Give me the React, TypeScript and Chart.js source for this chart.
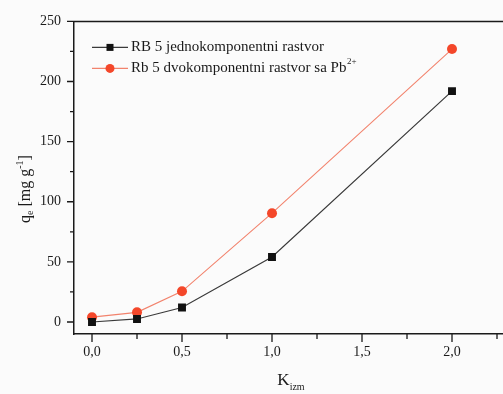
import React, { useEffect, useRef } from "react";
import { Chart, registerables } from "chart.js";

Chart.register(...registerables);

const kValues = [0, 0.25, 0.5, 1.0, 2.0];
const singleLabel = "RB 5 jednokomponentni rastvor";
const singleValues = [0, 2.5, 12, 54, 192];
const binaryLabel = "Rb 5 dvokomponentni rastvor sa Pb²⁺";
const binaryValues = [4, 8, 25.5, 90.5, 227];
const xTickValues = [0, 0.5, 1.0, 1.5, 2.0];
const xMinorValues = [0.25, 0.75, 1.25, 1.75, 2.25];
const yTickValues = [0, 50, 100, 150, 200, 250];
const yMinorValues = [25, 75, 125, 175, 225];

const FONT = '"Liberation Serif", "Times New Roman", serif';
const BLACK_LINE = "#3a3a3a";
const BLACK_PT = "#111111";
const RED_LINE = "#f2836d";
const RED_PT = "#f4472a";

function drawRich(ctx: CanvasRenderingContext2D, parts: { t: string; size: number; dy: number }[], cx: number, cy: number) {
  let total = 0;
  for (const p of parts) {
    ctx.font = `${p.size}px ${FONT}`;
    total += ctx.measureText(p.t).width;
  }
  let x = cx - total / 2;
  ctx.textAlign = "left";
  ctx.textBaseline = "alphabetic";
  for (const p of parts) {
    ctx.font = `${p.size}px ${FONT}`;
    ctx.fillText(p.t, x, cy + p.dy);
    x += ctx.measureText(p.t).width;
  }
}

const decorPlugin = {
  id: "decor",
  afterDraw(chart: any) {
    const ctx: CanvasRenderingContext2D = chart.ctx;
    const { left, right, top, bottom } = chart.chartArea;
    const xs = chart.scales.x;
    const ys = chart.scales.y;
    ctx.save();
    ctx.strokeStyle = "#1a1a1a";
    ctx.lineWidth = 1.5;
    // frame top & right
    ctx.beginPath();
    ctx.moveTo(left, top);
    ctx.lineTo(right, top);
    ctx.lineTo(right, bottom);
    ctx.stroke();
    // ticks
    ctx.lineWidth = 1.3;
    ctx.beginPath();
    for (const v of xTickValues) {
      const px = xs.getPixelForValue(v);
      ctx.moveTo(px, bottom);
      ctx.lineTo(px, bottom + 8);
    }
    for (const v of xMinorValues) {
      const px = xs.getPixelForValue(v);
      ctx.moveTo(px, bottom);
      ctx.lineTo(px, bottom + 5);
    }
    for (const v of yTickValues) {
      const py = ys.getPixelForValue(v);
      ctx.moveTo(left, py);
      ctx.lineTo(left - 7, py);
    }
    for (const v of yMinorValues) {
      const py = ys.getPixelForValue(v);
      ctx.moveTo(left, py);
      ctx.lineTo(left - 4, py);
    }
    ctx.stroke();

    // legend
    const ds = chart.data.datasets;
    ds.forEach((d: any, i: number) => {
      const y = top + 26 + i * 21;
      const x0 = left + 18;
      const x1 = left + 54;
      const mx = (x0 + x1) / 2;
      ctx.strokeStyle = d.borderColor;
      ctx.lineWidth = d.borderWidth;
      ctx.beginPath();
      ctx.moveTo(x0, y);
      ctx.lineTo(x1, y);
      ctx.stroke();
      ctx.fillStyle = d.pointBackgroundColor;
      if (d.pointStyle === "rect") {
        ctx.fillRect(mx - 3.5, y - 3.5, 7, 7);
      } else {
        ctx.beginPath();
        ctx.arc(mx, y, 4.5, 0, Math.PI * 2);
        ctx.fill();
      }
      ctx.fillStyle = "#1a1a1a";
      ctx.font = `15px ${FONT}`;
      ctx.textAlign = "left";
      ctx.textBaseline = "middle";
      if (d.label.endsWith("²⁺")) {
        const base = d.label.slice(0, -2);
        ctx.fillText(base, x1 + 3, y);
        const w = ctx.measureText(base).width;
        ctx.font = `9px ${FONT}`;
        ctx.fillText("2+", x1 + 3 + w + 0.5, y - 7);
      } else {
        ctx.fillText(d.label, x1 + 3, y);
      }
    });

    // axis titles
    ctx.fillStyle = "#1a1a1a";
    drawRich(ctx, [
      { t: "K", size: 17, dy: 0 },
      { t: "izm", size: 10, dy: 5 },
    ], 291, 385);

    ctx.save();
    ctx.translate(30, 189);
    ctx.rotate(-Math.PI / 2);
    drawRich(ctx, [
      { t: "q", size: 16, dy: 0 },
      { t: "e", size: 10, dy: 3 },
      { t: " [mg g", size: 16, dy: 0 },
      { t: "-1", size: 10, dy: -7 },
      { t: "]", size: 16, dy: 0 },
    ], 0, 0);
    ctx.restore();
    ctx.restore();
  },
};

export default function App() {
  const ref = useRef<HTMLCanvasElement>(null);
  useEffect(() => {
    if (!ref.current) return;
    const chart = new Chart(ref.current, {
      type: "line",
      data: {
        datasets: [
          {
            label: singleLabel,
            data: kValues.map((k, i) => ({ x: k, y: singleValues[i] })),
            borderColor: BLACK_LINE,
            borderWidth: 1.2,
            pointStyle: "rect",
            pointRadius: 5.6,
            pointBackgroundColor: BLACK_PT,
            pointBorderColor: BLACK_PT,
            pointBorderWidth: 0,
            tension: 0,
          },
          {
            label: binaryLabel,
            data: kValues.map((k, i) => ({ x: k, y: binaryValues[i] })),
            borderColor: RED_LINE,
            borderWidth: 1.1,
            pointStyle: "circle",
            pointRadius: 5,
            pointBackgroundColor: RED_PT,
            pointBorderColor: RED_PT,
            pointBorderWidth: 0,
            tension: 0,
          },
        ],
      },
      options: {
        animation: false,
        responsive: false,
        events: [],
        layout: { padding: { top: 16, right: 15, bottom: 0, left: 0 } },
        plugins: { legend: { display: false }, tooltip: { enabled: false } },
        scales: {
          x: {
            type: "linear",
            min: -0.1,
            max: 2.35,
            afterBuildTicks: (s: any) => {
              s.ticks = xTickValues.map((v) => ({ value: v }));
            },
            afterFit: (s: any) => {
              s.height = 60;
            },
            grid: { display: false, drawTicks: false },
            border: { display: true, color: "#1a1a1a", width: 1.5 },
            ticks: {
              padding: 10,
              color: "#1a1a1a",
              font: { family: FONT, size: 14 },
              maxRotation: 0,
              callback: (v: any) => Number(v).toFixed(1).replace(".", ","),
            },
          },
          y: {
            type: "linear",
            min: -10,
            max: 250,
            afterBuildTicks: (s: any) => {
              s.ticks = yTickValues.map((v) => ({ value: v }));
            },
            afterFit: (s: any) => {
              s.width = 74;
            },
            grid: { display: false, drawTicks: false },
            border: { display: true, color: "#1a1a1a", width: 1.5 },
            ticks: {
              padding: 13,
              color: "#1a1a1a",
              font: { family: FONT, size: 14 },
              callback: (v: any) => String(v),
            },
          },
        },
      },
      plugins: [decorPlugin],
    });
    return () => chart.destroy();
  }, []);
  return (
    <div
      style={{
        position: "fixed",
        left: 0,
        top: 0,
        width: 503,
        height: 394,
        overflow: "hidden",
        background: "#fbfbfb",
      }}
    >
      <canvas ref={ref} width={530} height={394} style={{ width: 530, height: 394, display: "block" }} />
    </div>
  );
}
